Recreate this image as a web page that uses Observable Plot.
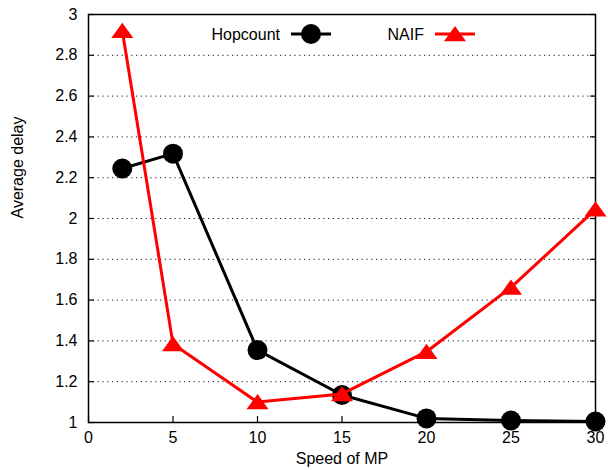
<!DOCTYPE html>
<html><head><meta charset="utf-8">
<script src="https://cdn.jsdelivr.net/npm/d3@7"></script>
<script src="https://cdn.jsdelivr.net/npm/@observablehq/plot@0.6"></script>
<style>
body{margin:0;background:#fff}
#c{position:relative;width:608px;height:470px}
svg{font-family:"Liberation Sans",Arial,Helvetica,sans-serif}
</style>
</head><body><div id="c"></div>
<script>
const speeds = [2, 5, 10, 15, 20, 25, 30];
const hopcount = [2.245, 2.318, 1.355, 1.135, 1.02, 1.01, 1.005];
const naif = [2.92, 1.385, 1.10, 1.14, 1.347, 1.662, 2.045];
const seriesNames = ["Hopcount", "NAIF"];
const seriesColors = ["#000000", "#ff0000"];
const xTicks = [0, 5, 10, 15, 20, 25, 30];
const yTicks = [1, 1.2, 1.4, 1.6, 1.8, 2, 2.2, 2.4, 2.6, 2.8, 3];
const gridTicks = yTicks.slice(1, -1);
const xLabel = "Speed of MP";
const yLabel = "Average delay";

const hopData = speeds.map((s, i) => ({x: s, y: hopcount[i]}));
const naifData = speeds.map((s, i) => ({x: s, y: naif[i]}));

const triangle = {
  draw(ctx, size) {
    const s = Math.sqrt(size / Math.PI);
    ctx.moveTo(0, -s);
    ctx.lineTo(1.375 * s, 0.9 * s);
    ctx.lineTo(-1.375 * s, 0.9 * s);
    ctx.closePath();
  }
};

const FS = 16;
const chart = Plot.plot({
  width: 608,
  height: 470,
  marginLeft: 88,
  marginRight: 13,
  marginTop: 14,
  marginBottom: 48,
  x: {domain: [0, 30]},
  y: {domain: [1, 3]},
  style: {fontFamily: '"Liberation Sans",Arial,Helvetica,sans-serif', fontSize: FS + "px", color: "#000"},
  marks: [
    Plot.ruleY(gridTicks, {stroke: "#000", strokeWidth: 1, strokeDasharray: "1.2,3.6", strokeOpacity: 0.9}),
    Plot.axisX({ticks: xTicks, tickSize: -6, tickPadding: 15, tickFormat: d => String(d), label: null, fontSize: FS, strokeWidth: 1.2}),
    Plot.axisY({ticks: yTicks, tickSize: -6, tickPadding: 17, tickFormat: d => String(+d.toFixed(1)), label: null, fontSize: FS, strokeWidth: 1.2}),
    Plot.axisY({anchor: "right", ticks: yTicks, tickSize: -6, tickFormat: () => "", label: null, strokeWidth: 1.2}),
    Plot.frame({stroke: "#000", strokeWidth: 1.5}),
    Plot.line(hopData, {x: "x", y: "y", stroke: seriesColors[0], strokeWidth: 3}),
    Plot.dot(hopData, {x: "x", y: "y", r: 10, fill: seriesColors[0], stroke: "none"}),
    Plot.line(naifData, {x: "x", y: "y", stroke: seriesColors[1], strokeWidth: 3}),
    Plot.dot(naifData, {x: "x", y: "y", r: 8, symbol: triangle, fill: seriesColors[1], stroke: "none"}),
    Plot.text([yLabel], {frameAnchor: "left", dx: -71, rotate: -90, fontSize: FS, fill: "#000"}),
    Plot.text([xLabel], {frameAnchor: "bottom", dy: 41, fontSize: FS, fill: "#000"})
  ]
});
document.getElementById("c").appendChild(chart);

// legend inside the plot frame
const svg = d3.select(chart);
const leg = svg.append("g");
const items = [
  {name: seriesNames[0], color: seriesColors[0], textEnd: 280, x0: 291, x1: 331, cy: 34, kind: "circle"},
  {name: seriesNames[1], color: seriesColors[1], textEnd: 424, x0: 435, x1: 475, cy: 34, kind: "triangle"}
];
items.forEach(it => {
  leg.append("text").attr("x", it.textEnd).attr("y", it.cy).attr("dy", "0.35em")
    .attr("text-anchor", "end").attr("font-size", FS).attr("fill", "#000").text(it.name);
  leg.append("line").attr("x1", it.x0).attr("x2", it.x1).attr("y1", it.cy).attr("y2", it.cy)
    .attr("stroke", it.color).attr("stroke-width", 3);
  const cx = (it.x0 + it.x1) / 2;
  if (it.kind === "circle") {
    leg.append("circle").attr("cx", cx).attr("cy", it.cy).attr("r", 10).attr("fill", it.color);
  } else {
    const p = d3.path(); triangle.draw(p, 64 * Math.PI);
    leg.append("path").attr("d", p.toString()).attr("transform", `translate(${cx},${it.cy})`).attr("fill", it.color);
  }
});
</script>
</body></html>
